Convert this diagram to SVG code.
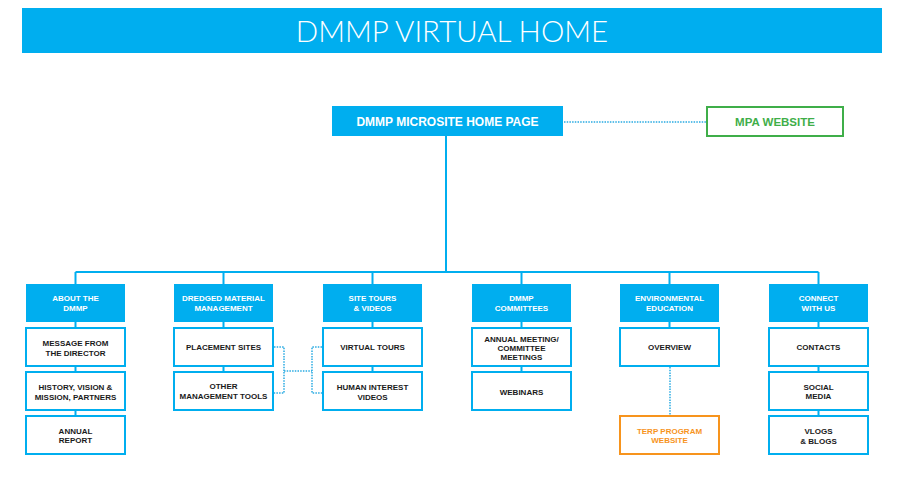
<svg xmlns="http://www.w3.org/2000/svg" width="901" height="492" viewBox="0 0 901 492">
<style>
.cat rect{fill:#00AEEF;}
.cat text{fill:#fff;}
.ch rect{fill:#fff;stroke:#00AEEF;stroke-width:2;}
text{font-family:"Liberation Sans",Arial,sans-serif;font-weight:bold;font-size:8px;text-anchor:middle;fill:#1a1a1a;}
.solid{stroke:#00AEEF;stroke-width:2;fill:none;}
.dot{stroke:#29ABE2;stroke-width:1.5;fill:none;stroke-dasharray:1.5 1.2;}
</style>
<rect width="901" height="492" fill="#fff"/>
<g id="title">
<rect x="22" y="8" width="860" height="45" fill="#00AEEF"/>
<text x="452" y="41.5" style="font-family:Lato,'Open Sans',sans-serif;font-weight:300;font-size:29.5px;fill:#fff;">DMMP VIRTUAL HOME</text>
</g>
<g id="connectors">
<path class="solid" d="M446 136V272M75.5 272H818.5M75.5 272V284M223.5 272V284M372.5 272V284M521.5 272V284M669.5 272V284M818.5 272V284"/>
<path class="solid" d="M75.5 322V328M75.5 366V372M75.5 410V416M223.5 322V328M223.5 366V372M372.5 322V328M372.5 366V372M521.5 322V328M521.5 366V372M669.5 322V328M818.5 322V328M818.5 366V372M818.5 410V416"/>
<path class="dot" d="M564 122H706"/>
<path class="dot" d="M274 347H284V393H274M284 371H312M322 347H312V393H322"/>
<path class="dot" d="M670 367V415"/>
</g>
<g id="home">
<rect x="332" y="106" width="231" height="30" fill="#00AEEF"/>
<text x="447.5" y="125.5" style="font-size:12px;fill:#fff;">DMMP MICROSITE HOME PAGE</text>
</g>
<g id="mpa">
<rect x="707" y="107" width="136" height="29" fill="#fff" stroke="#3FAE49" stroke-width="2"/>
<text x="775" y="126" style="font-size:11.5px;fill:#3FAE49;">MPA WEBSITE</text>
</g>
<g id="about" class="cat"><rect x="26" y="284" width="99" height="38"/><text x="75.5" y="301">ABOUT THE</text><text x="75.5" y="311">DMMP</text></g>
<g id="message" class="ch"><rect x="26" y="328" width="99" height="38"/><text x="75.5" y="345.5">MESSAGE FROM</text><text x="75.5" y="355.5">THE DIRECTOR</text></g>
<g id="history" class="ch"><rect x="26" y="372" width="99" height="38"/><text x="75.5" y="389.5">HISTORY, VISION &amp;</text><text x="75.5" y="399.5">MISSION, PARTNERS</text></g>
<g id="annual" class="ch"><rect x="26" y="416" width="99" height="38"/><text x="75.5" y="433.5">ANNUAL</text><text x="75.5" y="443">REPORT</text></g>
<g id="dredged" class="cat"><rect x="174" y="284" width="99" height="38"/><text x="223.5" y="301">DREDGED MATERIAL</text><text x="223.5" y="311">MANAGEMENT</text></g>
<g id="placement" class="ch"><rect x="174" y="328" width="99" height="38"/><text x="223.5" y="350">PLACEMENT SITES</text></g>
<g id="other" class="ch"><rect x="174" y="372" width="99" height="38"/><text x="223.5" y="389">OTHER</text><text x="223.5" y="398.5">MANAGEMENT TOOLS</text></g>
<g id="sitetours" class="cat"><rect x="323" y="284" width="99" height="38"/><text x="372.5" y="301">SITE TOURS</text><text x="372.5" y="311">&amp; VIDEOS</text></g>
<g id="virtual" class="ch"><rect x="323" y="328" width="99" height="38"/><text x="372.5" y="350">VIRTUAL TOURS</text></g>
<g id="human" class="ch"><rect x="323" y="372" width="99" height="38"/><text x="372.5" y="390">HUMAN INTEREST</text><text x="372.5" y="399.5">VIDEOS</text></g>
<g id="committees" class="cat"><rect x="472" y="284" width="99" height="38"/><text x="521.5" y="301">DMMP</text><text x="521.5" y="311">COMMITTEES</text></g>
<g id="meeting" class="ch"><rect x="472" y="328" width="99" height="38"/><text x="521.5" y="341.5">ANNUAL MEETING/</text><text x="521.5" y="350.5">COMMITTEE</text><text x="521.5" y="359.5">MEETINGS</text></g>
<g id="webinars" class="ch"><rect x="472" y="372" width="99" height="38"/><text x="521.5" y="394.5">WEBINARS</text></g>
<g id="env" class="cat"><rect x="620" y="284" width="99" height="38"/><text x="669.5" y="301">ENVIRONMENTAL</text><text x="669.5" y="311">EDUCATION</text></g>
<g id="overview" class="ch"><rect x="620" y="328" width="99" height="38"/><text x="669.5" y="350">OVERVIEW</text></g>
<g id="terp"><rect x="620" y="416" width="99" height="38" fill="#fff" stroke="#F7941D" stroke-width="2"/><text x="669.5" y="433.5" style="fill:#F7941D;">TERP PROGRAM</text><text x="669.5" y="443" style="fill:#F7941D;">WEBSITE</text></g>
<g id="connect" class="cat"><rect x="769" y="284" width="99" height="38"/><text x="818.5" y="301">CONNECT</text><text x="818.5" y="311">WITH US</text></g>
<g id="contacts" class="ch"><rect x="769" y="328" width="99" height="38"/><text x="818.5" y="350">CONTACTS</text></g>
<g id="social" class="ch"><rect x="769" y="372" width="99" height="38"/><text x="818.5" y="389.5">SOCIAL</text><text x="818.5" y="399">MEDIA</text></g>
<g id="vlogs" class="ch"><rect x="769" y="416" width="99" height="38"/><text x="818.5" y="434">VLOGS</text><text x="818.5" y="443.5">&amp; BLOGS</text></g>
</svg>
